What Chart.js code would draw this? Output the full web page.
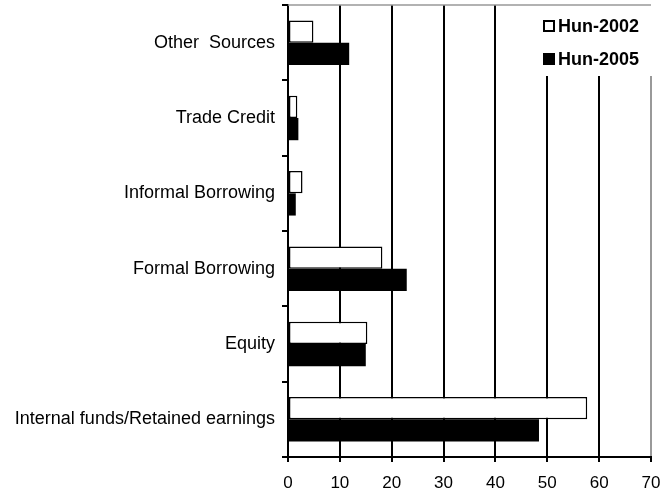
<!DOCTYPE html>
<html>
<head>
<meta charset="utf-8">
<script src="https://cdn.jsdelivr.net/npm/chart.js@4.4.0/dist/chart.umd.min.js"></script>
<style>
  html, body { margin: 0; padding: 0; background: #fff; }
  #wrap { width: 662px; height: 496px; }
</style>
</head>
<body>
<div id="wrap"><canvas id="chart"></canvas></div>
<script>
// sources of finance, share in percent
const categories = ['Other  Sources', 'Trade Credit', 'Informal Borrowing', 'Formal Borrowing', 'Equity', 'Internal funds/Retained earnings'];
const hun2002 = [4.9, 1.8, 2.8, 18.2, 15.3, 57.7];
const hun2005 = [11.8, 2.0, 1.5, 22.9, 15.0, 48.4];
const xTicks = [0, 10, 20, 30, 40, 50, 60, 70];

const FONT = '"Liberation Sans", Arial, sans-serif';

// legend box in the top right corner, painted over the grid
const boxLegend = {
    id: 'boxLegend',
    afterDraw(chart) {
        const ctx = chart.ctx;
        const area = chart.chartArea;
        ctx.save();
        ctx.fillStyle = '#fff';
        ctx.fillRect(522, area.top, 140, 71);
        // top border of the plot
        ctx.strokeStyle = '#999';
        ctx.lineWidth = 1.5;
        ctx.beginPath();
        ctx.moveTo(area.left, area.top);
        ctx.lineTo(area.right, area.top);
        ctx.stroke();

        ctx.font = 'bold 18px ' + FONT;
        ctx.textBaseline = 'middle';
        chart.data.datasets.forEach((ds, i) => {
            const y = 26 + i * 33;
            ctx.fillStyle = ds.backgroundColor;
            ctx.fillRect(544, y - 5, 10, 10);
            ctx.strokeStyle = '#000';
            ctx.lineWidth = 2;
            ctx.strokeRect(544, y - 5, 10, 10);
            ctx.fillStyle = '#000';
            ctx.fillText(ds.label, 558, y + 1);
        });
        ctx.restore();
    }
};

const ctx = document.getElementById('chart').getContext('2d');
const myChart = new Chart(ctx, {
    type: 'bar',
    data: {
        labels: categories,
        datasets: [{
            label: 'Hun-2002',
            data: hun2002,
            backgroundColor: '#fff',
            borderColor: '#000',
            borderWidth: 1.5,
            borderSkipped: false
        }, {
            label: 'Hun-2005',
            data: hun2005,
            backgroundColor: '#000',
            borderWidth: 0
        }]
    },
    options: {
        indexAxis: 'y',
        responsive: true,
        maintainAspectRatio: false,
        animation: false,
        devicePixelRatio: 1,
        layout: { padding: { top: 5, right: 11, left: 0, bottom: 0 } },
        datasets: { bar: { categoryPercentage: 0.59, barPercentage: 1.0 } },
        plugins: {
            legend: { display: false },
            tooltip: { enabled: false }
        },
        scales: {
            x: {
                min: 0,
                max: 70,
                afterBuildTicks: scale => { scale.ticks = xTicks.map(v => ({ value: v })); },
                afterFit: scale => {
                    scale.height = 39;
                    scale.paddingLeft = 0;
                    scale.paddingRight = 0;
                },
                border: { color: '#000', width: 2 },
                grid: {
                    color: c => c.tick && c.tick.value === 70 ? '#999' : '#000',
                    lineWidth: 2,
                    tickLength: 5,
                    tickColor: '#000'
                },
                ticks: {
                    color: '#000',
                    padding: 11,
                    maxRotation: 0,
                    font: { family: FONT, size: 17 }
                }
            },
            y: {
                afterFit: scale => {
                    scale.width = 288;
                    scale.paddingTop = 0;
                    scale.paddingBottom = 0;
                },
                border: { color: '#000', width: 2 },
                grid: {
                    offset: true,
                    drawOnChartArea: false,
                    tickLength: 6,
                    tickColor: '#000',
                    lineWidth: 2
                },
                ticks: {
                    color: '#000',
                    padding: 7,
                    font: { family: FONT, size: 18 }
                }
            }
        }
    },
    plugins: [boxLegend]
});
window.myChart = myChart;
</script>
</body>
</html>
